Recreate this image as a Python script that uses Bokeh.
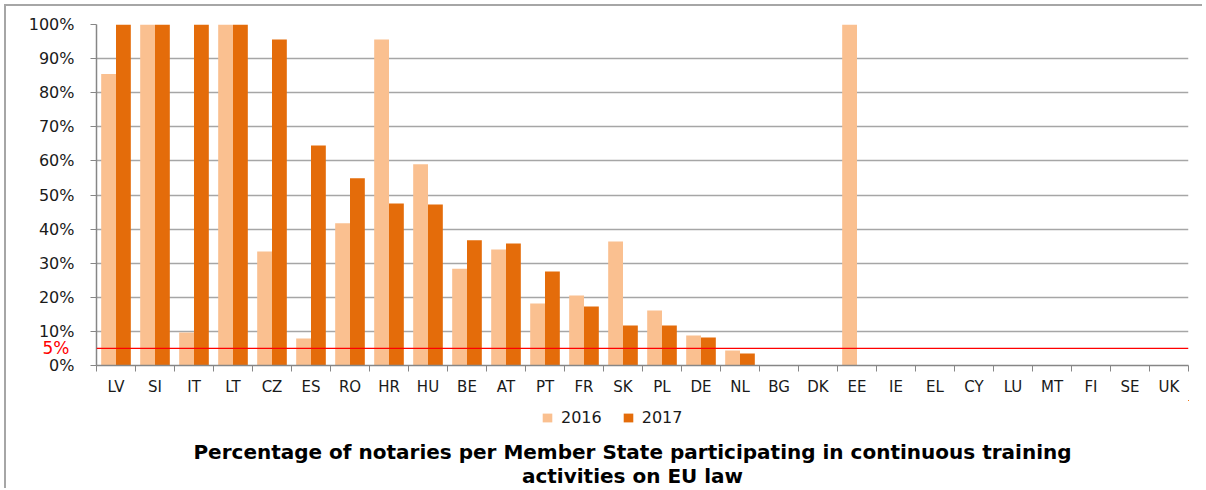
from bokeh.plotting import figure
from bokeh.layouts import column
from bokeh.models import (Range1d, FixedTicker, CustomJSTickFormatter, PrintfTickFormatter,
                          Span, Label, Legend, LegendItem, ColumnDataSource, LinearAxis)
from bokeh.embed import file_html
from bokeh.resources import INLINE

countries = ["LV", "SI", "IT", "LT", "CZ", "ES", "RO", "HR", "HU", "BE", "AT", "PT", "FR", "SK",
             "PL", "DE", "NL", "BG", "DK", "EE", "IE", "EL", "CY", "LU", "MT", "FI", "SE", "UK"]
v2016 = [85.5, 100, 9.7, 100, 33.4, 7.9, 41.7, 95.6, 59.0, 28.4, 34.0, 18.2, 20.5, 36.4,
         16.1, 8.8, 4.4, 0, 0, 100, 0, 0, 0, 0, 0, 0, 0, 0]
v2017 = [100, 100, 100, 100, 95.6, 64.5, 54.9, 47.5, 47.2, 36.7, 35.8, 27.6, 17.3, 11.7,
         11.7, 8.2, 3.5, 0, 0, 0, 0, 0, 0, 0, 0, 0, 0, 0]
series = ["2016", "2017"]
colors = ["#FAC090", "#E46C0A"]
threshold = 5
y_ticks = list(range(0, 101, 10))
title_lines = ["Percentage of notaries per Member State participating in continuous training",
               "activities on EU law"]

idx = list(range(len(countries)))
src = ColumnDataSource(dict(
    x16=[i + 0.5 - 0.19 for i in idx],
    x17=[i + 0.5 + 0.19 for i in idx],
    v2016=v2016, v2017=v2017, cat=countries))

W = 1196
p = figure(width=W, height=394, output_backend="svg", toolbar_location=None,
           x_range=Range1d(0, len(countries)), y_range=Range1d(0, 100),
           min_border_left=90, min_border_right=14, min_border_top=18, min_border_bottom=35)
p.outline_line_color = None
p.background_fill_color = "white"

r16 = p.vbar(x="x16", top="v2016", width=0.38, source=src, fill_color=colors[0], line_color=None)
r17 = p.vbar(x="x17", top="v2017", width=0.38, source=src, fill_color=colors[1], line_color=None)

xa = p.xaxis[0]
xa.ticker = FixedTicker(ticks=[i + 0.5 for i in idx], minor_ticks=list(range(len(countries) + 1)))
xa.formatter = CustomJSTickFormatter(args=dict(labels=countries), code="return labels[Math.floor(tick)];")
xa.major_tick_out = 0
xa.major_tick_in = 0
xa.minor_tick_out = 6
xa.minor_tick_in = 0
xa.minor_tick_line_color = "#868686"
xa.axis_line_color = "#868686"
xa.axis_line_width = 1.5
xa.major_label_text_font = "DejaVu Sans"
xa.major_label_text_font_size = "15px"
xa.major_label_text_color = "#1a1a1a"
xa.major_label_standoff = 6

ya = p.yaxis[0]
ya.ticker = FixedTicker(ticks=y_ticks)
ya.formatter = PrintfTickFormatter(format="%d%%")
ya.major_tick_out = 6
ya.major_tick_in = 0
ya.minor_tick_out = 0
ya.minor_tick_in = 0
ya.major_tick_line_color = "#868686"
ya.axis_line_color = "#868686"
ya.axis_line_width = 1.5
ya.major_label_text_font = "DejaVu Sans"
ya.major_label_text_font_size = "16px"
ya.major_label_text_color = "#1a1a1a"
ya.major_label_standoff = 16

# red 5% label as an extra left axis pulled inward
ra = LinearAxis(ticker=FixedTicker(ticks=[threshold]), formatter=PrintfTickFormatter(format="%d%%"))
ra.axis_line_color = None
ra.major_tick_line_color = None
ra.minor_tick_line_color = None
ra.major_tick_out = 0
ra.major_tick_in = 0
ra.minor_tick_out = 0
ra.minor_tick_in = 0
ra.major_label_text_color = "red"
ra.major_label_text_font = "DejaVu Sans"
ra.major_label_text_font_size = "17px"
ra.major_label_standoff = -44
p.add_layout(ra, "left")

p.xgrid.grid_line_color = None
p.ygrid.grid_line_color = "#A6A6A6"
p.ygrid.grid_line_width = 1.5
p.ygrid.ticker = FixedTicker(ticks=y_ticks)

p.add_layout(Span(location=threshold, dimension="width", line_color="red", line_width=1.2))

# lower panel: legend and title (legend swatches come from zero-size renderers)
p2 = figure(width=W, height=88, output_backend="svg", toolbar_location=None,
            x_range=Range1d(-3, -2), y_range=Range1d(-3, -2), min_border=0)
p2.axis.visible = False
p2.grid.visible = False
p2.outline_line_color = None
l16 = p2.vbar(x="x16", top="v2016", bottom="v2016", width=0, source=src,
              fill_color=colors[0], line_color=None)
l17 = p2.vbar(x="x17", top="v2017", bottom="v2017", width=0, source=src,
              fill_color=colors[1], line_color=None)

legend = Legend(items=[LegendItem(label=series[0], renderers=[l16]),
                       LegendItem(label=series[1], renderers=[l17])],
                orientation="horizontal", location=(445, 61),
                glyph_width=12, glyph_height=11, label_height=16, label_standoff=8, spacing=20,
                label_text_font="DejaVu Sans", label_text_font_size="16px",
                label_text_color="#1a1a1a",
                border_line_color=None, background_fill_alpha=0, padding=0, margin=0)
p2.add_layout(legend, "center")

for k, t in enumerate(title_lines):
    p2.add_layout(Label(x=536, y=37 - 24 * k, x_units="screen", y_units="screen",
                        text=t, text_align="center", text_baseline="middle", text_color="#000000",
                        text_font="DejaVu Sans", text_font_style="bold", text_font_size="20px"))

layout = column(p, p2, spacing=0,
                styles={"border-top": "2px solid #A6A6A6", "border-left": "2px solid #A6A6A6",
                        "margin-top": "4px", "margin-left": "4px"})

open("out.html", "w").write(file_html(layout, INLINE))
